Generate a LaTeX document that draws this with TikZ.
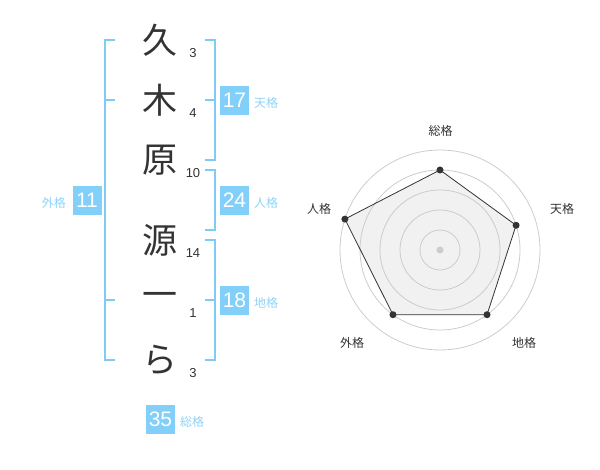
\documentclass[tikz,border=0pt]{standalone}
\usepackage{fontspec}
\setmainfont{Liberation Sans}
\newfontfamily\jp{Noto Sans CJK JP}
\definecolor{brk}{HTML}{7FCAF6}
\definecolor{boxc}{HTML}{82CFFA}
\definecolor{lbl}{HTML}{8FD3F7}
\definecolor{ink}{HTML}{333333}
\definecolor{ring}{HTML}{CCCCCC}
\definecolor{polyfill}{HTML}{F1F1F1}
\tikzset{
  kanji/.style={font=\jp\fontsize{35}{35}\selectfont, text=ink, inner sep=0pt},
  strokenum/.style={font=\fontsize{13}{13}\selectfont, text=ink, inner sep=0pt},
  numbox/.style={fill=boxc, text=white, minimum width=29pt, minimum height=29pt, inner sep=0pt, font=\fontsize{21}{21}\selectfont},
  kaku/.style={font=\jp\fontsize{12}{12}\selectfont, text=lbl, inner sep=0pt},
  bracket/.style={draw=brk, line width=2pt},
  axislbl/.style={font=\jp\fontsize{12}{12}\selectfont, text=ink, inner sep=0pt},
  ringline/.style={draw=ring, line width=0.8pt},
  vdot/.style={circle, fill=ink, inner sep=0pt, minimum size=7pt},
}
\begin{document}
\begin{tikzpicture}[x=1pt,y=-1pt]
\useasboundingbox (0,0) rectangle (600,470);
% kanji
\node[kanji] (k1) at (160,40) {久};
\node[kanji] (k2) at (160,100) {木};
\node[kanji] (k3) at (160,160) {原};
\node[kanji] (k4) at (160,240) {源};
\node[kanji] (k5) at (160,300) {一};
\node[kanji] (k6) at (160,360) {ら};
% stroke counts
\node[strokenum] (n1) at (193,53) {3};
\node[strokenum] (n2) at (193,113) {4};
\node[strokenum] (n3) at (193,173) {10};
\node[strokenum] (n4) at (193,253) {14};
\node[strokenum] (n5) at (193,313) {1};
\node[strokenum] (n6) at (193,373) {3};
% brackets
\draw[bracket] (115,40) -- (105,40) -- (105,360) -- (115,360);
\draw[bracket] (105,100) -- (115,100);
\draw[bracket] (105,300) -- (115,300);
\draw[bracket] (205,40) -- (215,40) -- (215,160) -- (205,160);
\draw[bracket] (205,100) -- (215,100);
\draw[bracket] (205,170) -- (215,170) -- (215,230) -- (205,230);
\draw[bracket] (205,240) -- (215,240) -- (215,360) -- (205,360);
\draw[bracket] (205,300) -- (215,300);
% boxes
\node[numbox] (b17) at (234.5,100.5) {17};
\node[kaku, anchor=west] (l17) at (254,103) {天格};
\node[numbox] (b24) at (234.5,200.5) {24};
\node[kaku, anchor=west] (l24) at (254,203) {人格};
\node[numbox] (b18) at (234.5,300.5) {18};
\node[kaku, anchor=west] (l18) at (254,303) {地格};
\node[numbox] (b11) at (87,200.5) {11};
\node[kaku, anchor=east] (l11) at (66,203) {外格};
\node[numbox] (b35) at (160.5,419.5) {35};
\node[kaku, anchor=west] (l35) at (180,422) {総格};
% radar
\begin{scope}[shift={(440,250)}]
  \coordinate (ps) at (-90:80);
  \coordinate (pt) at (-18:80);
  \coordinate (pc) at (54:80);
  \coordinate (pg) at (126:80);
  \coordinate (pj) at (198:100);
  \fill[polyfill] (ps) -- (pt) -- (pc) -- (pg) -- (pj) -- cycle;
  \foreach \r in {20,40,60,80,100} \draw[ringline] (0,0) circle (\r);
  \fill[ring] (0,0) circle (3.5);
  \draw[ink, line width=0.8pt] (ps) -- (pt) -- (pc) -- (pg) -- (pj) -- cycle;
  \foreach \p in {ps,pt,pc,pg,pj} \node[vdot] at (\p) {};
\end{scope}
\node[axislbl] (axs) at (440.5,131) {総格};
\node[axislbl] (axt) at (562,209) {天格};
\node[axislbl] (axj) at (319,209) {人格};
\node[axislbl] (axc) at (524,343) {地格};
\node[axislbl] (axg) at (352,343) {外格};
\end{tikzpicture}
\end{document}
